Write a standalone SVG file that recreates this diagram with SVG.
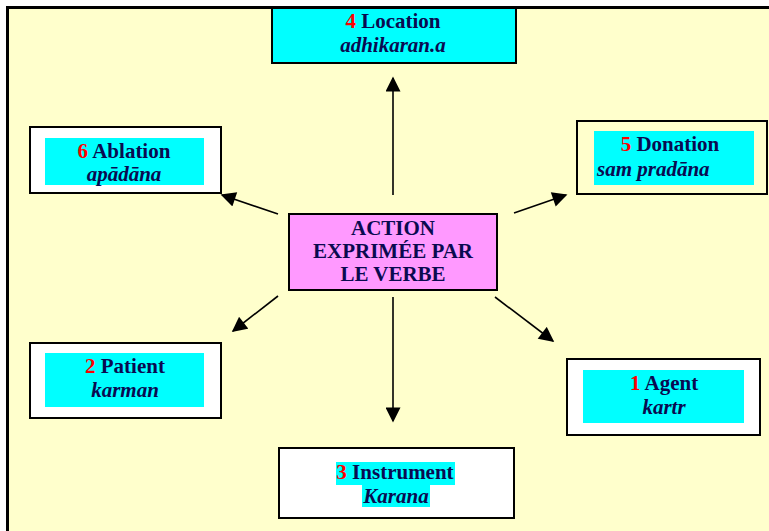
<svg xmlns="http://www.w3.org/2000/svg" width="769" height="531" viewBox="0 0 769 531">
  <defs>
    <marker id="arrowBig" viewBox="0 0 10 10" refX="9" refY="5" markerWidth="16" markerHeight="15" markerUnits="userSpaceOnUse" orient="auto">
      <path d="M0,0 L10,5 L0,10 z" fill="#000"/>
    </marker>
    <style>
      .panel { fill: #FFFFCC; stroke: #000; stroke-width: 3; }
      .outer { fill: #FFFFFF; stroke: #000; stroke-width: 2; }
      .outerY { fill: #FFFFCC; stroke: #000; stroke-width: 2; }
      .cyanbox { fill: #00FFFF; stroke: #000; stroke-width: 2; }
      .cyan { fill: #00FFFF; }
      .centre { fill: #FF99FF; stroke: #000; stroke-width: 2; }
      .conn { stroke: #000; stroke-width: 1.6; fill: none; }
      text { font-family: "Liberation Serif", "Times New Roman", serif; font-weight: bold; font-size: 21px; fill: #0A0A50; }
      .mid { text-anchor: middle; }
      .num { fill: #FF0000; }
      .it { font-style: italic; }
    </style>
  </defs>

  <rect x="0" y="0" width="769" height="531" fill="#FFFFFF"/>
  <rect class="panel" x="7.5" y="7.5" width="775" height="540"/>

  <g id="connectors">
    <line class="conn" x1="393" y1="195" x2="393" y2="78" marker-end="url(#arrowBig)"/>
    <line class="conn" x1="278" y1="214" x2="222" y2="195" marker-end="url(#arrowBig)"/>
    <line class="conn" x1="514" y1="213" x2="566" y2="195" marker-end="url(#arrowBig)"/>
    <line class="conn" x1="278" y1="296" x2="233" y2="331" marker-end="url(#arrowBig)"/>
    <line class="conn" x1="393" y1="297" x2="393" y2="421" marker-end="url(#arrowBig)"/>
    <line class="conn" x1="495" y1="297" x2="553" y2="341" marker-end="url(#arrowBig)"/>
  </g>

  <g id="location">
    <rect class="cyanbox" x="272" y="8" width="244" height="55"/>
    <text class="mid" x="393" y="28"><tspan class="num">4</tspan> Location</text>
    <text class="mid it" x="393" y="52">adhikaran.a</text>
  </g>

  <g id="ablation">
    <rect class="outer" x="30" y="127" width="191" height="66"/>
    <rect class="cyan" x="45" y="138" width="159" height="47"/>
    <text class="mid" x="124" y="158"><tspan class="num">6</tspan> Ablation</text>
    <text class="mid it" x="124" y="181">apādāna</text>
  </g>

  <g id="donation">
    <rect class="outerY" x="577" y="121" width="190" height="73"/>
    <rect class="cyan" x="594" y="131" width="160" height="54"/>
    <text class="mid" x="670" y="151"><tspan class="num">5</tspan> Donation</text>
    <text class="it" x="597" y="176">sam pradāna</text>
  </g>

  <g id="action">
    <rect class="centre" x="289" y="214" width="208" height="76"/>
    <text class="mid" x="393" y="235">ACTION</text>
    <text class="mid" x="393" y="258">EXPRIMÉE PAR</text>
    <text class="mid" x="393" y="281">LE VERBE</text>
  </g>

  <g id="patient">
    <rect class="outer" x="30" y="343" width="191" height="75"/>
    <rect class="cyan" x="45" y="353" width="159" height="54"/>
    <text class="mid" x="125" y="373"><tspan class="num">2</tspan> Patient</text>
    <text class="mid it" x="125" y="397">karman</text>
  </g>

  <g id="agent">
    <rect class="outer" x="567" y="359" width="193" height="76"/>
    <rect class="cyan" x="583" y="370" width="161" height="53"/>
    <text class="mid" x="664" y="390"><tspan class="num">1</tspan> Agent</text>
    <text class="mid it" x="664" y="414">kartr</text>
  </g>

  <g id="instrument">
    <rect class="outer" x="279" y="448" width="235" height="70"/>
    <rect class="cyan" x="336" y="462" width="119" height="23"/>
    <rect class="cyan" x="362" y="485" width="68" height="22"/>
    <text class="mid" x="395" y="479"><tspan class="num">3</tspan> Instrument</text>
    <text class="mid it" x="396" y="503">Karana</text>
  </g>
</svg>
